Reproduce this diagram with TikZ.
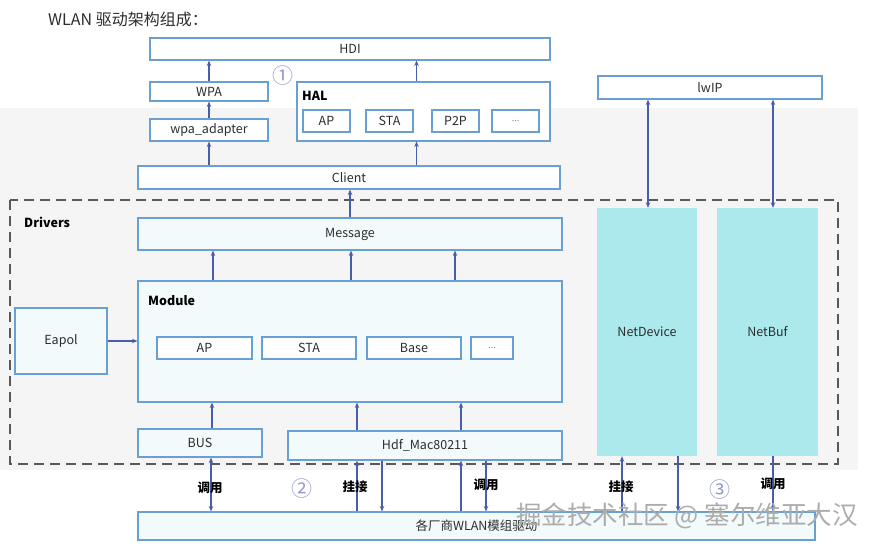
\documentclass[tikz,border=0pt]{standalone}
\usepackage{fontspec}
\setmainfont{Noto Sans CJK SC}
\usetikzlibrary{arrows.meta}

\definecolor{boxline}{RGB}{104,160,212}
\definecolor{boxfill}{RGB}{242,250,252}
\definecolor{netfill}{RGB}{172,233,236}
\definecolor{arrowc}{RGB}{72,94,168}
\definecolor{dashc}{RGB}{88,88,88}
\definecolor{bgc}{RGB}{245,245,245}
\definecolor{txt}{RGB}{45,45,45}
\definecolor{numc}{RGB}{150,150,214}

\tikzset{
  box/.style={draw=boxline, line width=1.1pt, fill=white, inner sep=0pt,
    text=txt, font=\fontsize{12.5}{14}\selectfont},
  lbox/.style={box, fill=boxfill},
  netbox/.style={fill=netfill, inner sep=0pt, text=txt, font=\fontsize{12.5}{14}\selectfont},
  heading/.style={anchor=west, inner sep=0pt, text=black, font=\fontsize{12.5}{14}\selectfont\bfseries},
  tag/.style={inner sep=0pt, text=black, font=\fontsize{12.5}{14}\selectfont\bfseries},
  num/.style={inner sep=0pt, text=numc, font=\fontsize{21}{22}\selectfont},
}

\begin{document}
\begin{tikzpicture}[x=1pt, y=-1pt, >={Stealth[length=5.5pt,width=4.5pt]},
    every edge/.style={draw=arrowc, line width=1.2pt}]
    \useasboundingbox (0,0) rectangle (872,547);

    % grey backdrop and driver frame
    \fill[bgc] (0,108) rectangle (858,470);
    \draw[dashc, line width=2.6pt, dash pattern=on 10pt off 6pt] (10,200) rectangle (838,464);

    \node (title) [anchor=west, inner sep=0pt, text=txt, font=\fontsize{16}{18}\selectfont] at (48,19) {WLAN 驱动架构组成：};

    % upper layers
    \node (hdi) [box, minimum width=400, minimum height=22] at (350,49) {HDI};
    \node (wpa) [box, minimum width=118, minimum height=19] at (209,91.5) {WPA};
    \node (wpaad) [box, minimum width=118, minimum height=22] at (209,130) {wpa\_adapter};
    \node (hal) [box, minimum width=253, minimum height=59] at (423.5,111.5) {};
    \node (halt) [heading] at (302,96) {HAL};
    \node (halap) [box, minimum width=47, minimum height=22] at (326.5,121) {AP};
    \node (halsta) [box, minimum width=47, minimum height=22] at (389.5,121) {STA};
    \node (halp2p) [box, minimum width=47, minimum height=22] at (455.5,121) {P2P};
    \node (haldots) [box, minimum width=47, minimum height=22] at (515.5,121) {\textcolor{gray}{\fontsize{9}{10}\selectfont ...}};
    \node (client) [box, minimum width=422, minimum height=23] at (349,177.5) {Client};
    \node (lwip) [box, minimum width=224, minimum height=23] at (710,87.5) {lwIP};
    \node (n1) [num] at (283,76) {①};

    % drivers
    \node (drv) [heading] at (24,222) {Drivers};
    \node (message) [lbox, minimum width=424, minimum height=32] at (350,234) {Message};
    \node (module) [lbox, minimum width=424, minimum height=121] at (350,341.5) {};
    \node (modt) [heading] at (148,301) {Module};
    \node (modap) [box, minimum width=95, minimum height=22] at (204.5,348) {AP};
    \node (modsta) [box, minimum width=94, minimum height=22] at (309,348) {STA};
    \node (modbase) [box, minimum width=94, minimum height=22] at (414,348) {Base};
    \node (moddots) [box, minimum width=42, minimum height=22] at (492,348) {\textcolor{gray}{\fontsize{9}{10}\selectfont ...}};
    \node (eapol) [lbox, minimum width=92, minimum height=66] at (61,341) {Eapol};
    \node (bus) [lbox, minimum width=124, minimum height=28] at (200,443) {BUS};
    \node (hdf) [lbox, minimum width=274, minimum height=29] at (425,445.5) {Hdf\_Mac80211};
    \node (netdev) [netbox, minimum width=100, minimum height=248] at (647,332) {NetDevice};
    \node (netbuf) [netbox, minimum width=101, minimum height=248] at (767.5,332) {NetBuf};

    % vendor layer
    \node (vendor) [lbox, minimum width=677, minimum height=28] at (476.5,526) {各厂商WLAN模组驱动};

    \path[->]
    (wpa) edge (wpa |- hdi.south)
    (wpaad) edge (wpaad |- wpa.south)
    (client.north -| wpaad) edge (wpaad)
    ([xshift=-7pt]hal.north) edge ([xshift=-7pt]hal.north |- hdi.south)
    ([xshift=-7pt]hal.south |- client.north) edge ([xshift=-7pt]hal.south)
    (message.north) edge (message.north |- client.south)
    ([xshift=-137pt]module.north) edge ([xshift=-137pt]message.south)
    ([xshift=1pt]module.north) edge ([xshift=1pt]message.south)
    ([xshift=105pt]module.north) edge ([xshift=105pt]message.south)
    (eapol) edge (eapol -| module.west)
    ([xshift=12pt]bus.north) edge ([xshift=12pt]bus.north |- module.south)
    ([xshift=-68pt]hdf.north) edge ([xshift=-68pt]hdf.north |- module.south)
    ([xshift=36pt]hdf.north) edge ([xshift=36pt]hdf.north |- module.south);

    \path[<->]
    ([xshift=11pt]bus.south) edge ([xshift=11pt]bus.south |- vendor.north)
    ([xshift=-62pt]lwip.south) edge ([xshift=-62pt]lwip.south |- netdev.north)
    ([xshift=63pt]lwip.south) edge ([xshift=63pt]lwip.south |- netbuf.north);

    \path[->]
    ([xshift=-68pt]hdf.south |- vendor.north) edge ([xshift=-68pt]hdf.south)
    ([xshift=-43pt]hdf.south) edge ([xshift=-43pt]hdf.south |- vendor.north)
    ([xshift=36pt]hdf.south |- vendor.north) edge ([xshift=36pt]hdf.south)
    ([xshift=61pt]hdf.south) edge ([xshift=61pt]hdf.south |- vendor.north)
    ([xshift=-25pt]netdev.south |- vendor.north) edge ([xshift=-25pt]netdev.south)
    ([xshift=31pt]netdev.south) edge ([xshift=31pt]netdev.south |- vendor.north)
    ([xshift=5.5pt]netbuf.south) edge ([xshift=5.5pt]netbuf.south |- vendor.north);

    % link labels
    \node (call1) [tag] at (210,488) {调用};
    \node (n2) [num] at (302,489) {②};
    \node (hook1) [tag] at (355,487) {挂接};
    \node (call2) [tag] at (486,485) {调用};
    \node (hook2) [tag] at (621,487) {挂接};
    \node (n3) [num] at (720,490) {③};
    \node (call3) [tag] at (773,484) {调用};

    \node (mark) [inner sep=0pt, text=gray!65, font=\fontsize{25.5}{26}\selectfont] at (687,516) {掘金技术社区 @ 塞尔维亚大汉};
\end{tikzpicture}
\end{document}
